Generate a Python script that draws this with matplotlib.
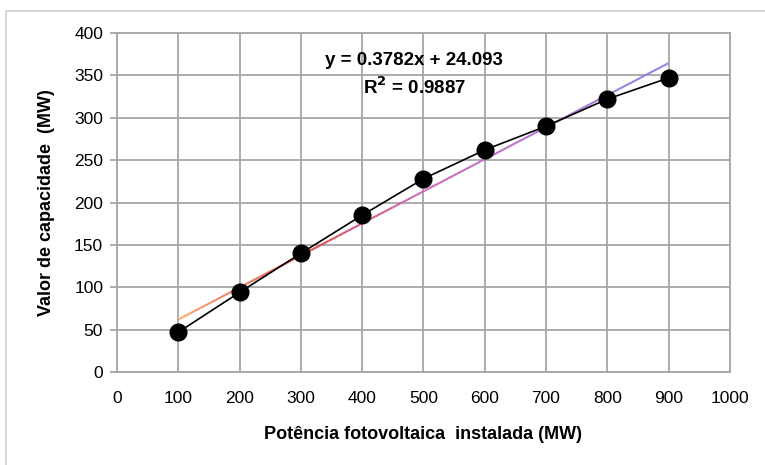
import numpy as np
import matplotlib
matplotlib.use("Agg")
import matplotlib.pyplot as plt
from matplotlib.collections import LineCollection
from matplotlib.colors import LinearSegmentedColormap
from matplotlib.patches import Rectangle

# data
potencia = [100, 200, 300, 400, 500, 600, 700, 800, 900]
capacidade = [47, 94, 140, 185, 228, 262, 290, 322, 347]
slope = 0.3782
intercept = 24.093
x_ticks = [0, 100, 200, 300, 400, 500, 600, 700, 800, 900, 1000]
y_ticks = [0, 50, 100, 150, 200, 250, 300, 350, 400]

plt.rcParams['font.family'] = ['Liberation Sans', 'DejaVu Sans']

fig = plt.figure(figsize=(7.65, 4.65), dpi=100)
ax = fig.add_axes([0.153, 0.2, 0.801, 0.729])

# outer frame of the chart (only top/left fall inside the picture)
fig.patches.append(Rectangle((0.008, -0.05), 1.1, 1.026, transform=fig.transFigure,
                             fill=False, edgecolor='#d0d0d0', linewidth=1.2))

grid_col = '#a6a6a6'
ax.set_xlim(0, 1000)
ax.set_ylim(0, 400)
ax.set_xticks(x_ticks)
ax.set_yticks(y_ticks)
ax.grid(True, color=grid_col, linewidth=1.3)
ax.set_axisbelow(True)
for s in ax.spines.values():
    s.set_color(grid_col)
    s.set_linewidth(1.3)
ax.tick_params(axis='y', length=5, color=grid_col, width=1.3, labelsize=12.5, pad=5)
ax.tick_params(axis='x', length=0, labelsize=12.5, pad=14)

# trendline with gradient colour
tx = np.linspace(potencia[0], potencia[-1], 200)
ty = slope * tx + intercept
pts = np.array([tx, ty]).T.reshape(-1, 1, 2)
segs = np.concatenate([pts[:-1], pts[1:]], axis=1)
cmap = LinearSegmentedColormap.from_list('trend', ['#f9a86a', '#e04848', '#cc66b8', '#b070d0', '#8c84e0'])
lc = LineCollection(segs, cmap=cmap, linewidth=1.5, zorder=3)
lc.set_array(np.linspace(0, 1, len(segs)))
ax.add_collection(lc)

ax.plot(potencia, capacidade, color='black', linewidth=1.2, marker='o',
        markersize=12, markerfacecolor='black', zorder=4)

ax.text(485, 368, 'y = 0.3782x + 24.093', ha='center', va='center',
        fontsize=13.5, fontweight='bold')
ax.text(485, 336, 'R$^{\\mathbf{2}}$ = 0.9887', ha='center', va='center',
        fontsize=13.5, fontweight='bold')

ax.set_xlabel('Potência fotovoltaica  instalada (MW)', fontsize=13,
              fontweight='bold', labelpad=14)
ax.set_ylabel('Valor de capacidade  (MW)', fontsize=13, fontweight='bold', labelpad=14)

fig.savefig('out.png', dpi=100)
